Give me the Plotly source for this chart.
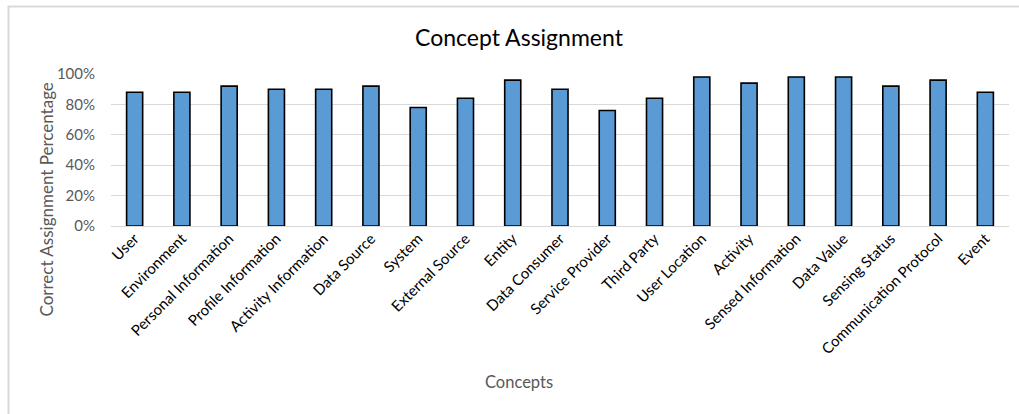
import plotly.graph_objects as go

# Share of correct assignments per concept
concepts = [
    "User", "Environment", "Personal Information", "Profile Information",
    "Activity Information", "Data Source", "System", "External Source",
    "Entity", "Data Consumer", "Service Provider", "Third Party",
    "User Location", "Activity", "Sensed Information", "Data Value",
    "Sensing Status", "Communication Protocol", "Event",
]
correct_pct = [
    0.88, 0.88, 0.92, 0.90, 0.90, 0.92, 0.78, 0.84, 0.96, 0.90,
    0.76, 0.84, 0.98, 0.94, 0.98, 0.98, 0.92, 0.96, 0.88,
]
y_ticks = [0, 0.2, 0.4, 0.6, 0.8, 1.0]

W, H = 1019, 414
# plot area in pixels
PL, PR, PT, PB = 111, 1009, 74, 226
FONT = "Lato, Calibri, Carlito, sans-serif"
GREY = "#595959"

fig = go.Figure(
    go.Bar(
        x=concepts,
        y=correct_pct,
        width=0.34,
        marker=dict(color="#5b9bd5", line=dict(color="#000000", width=1.6)),
    )
)


def px_x(p):
    return (p - PL) / (PR - PL)


def px_y(p):
    return (PB - p) / (PB - PT)


fig.update_layout(
    width=W,
    height=H,
    margin=dict(l=PL, r=W - PR, t=PT, b=H - PB, pad=0),
    paper_bgcolor="white",
    plot_bgcolor="white",
    showlegend=False,
    font=dict(family=FONT),
    title=dict(
        text="Concept Assignment",
        x=519 / W,
        xanchor="center",
        y=1 - 38 / H,
        yanchor="middle",
        font=dict(size=23, color="#000000", family=FONT),
    ),
    xaxis=dict(
        tickangle=-45,
        tickfont=dict(size=15, color="#000000"),
        showgrid=False,
        showline=False,
        ticks="",
        range=[-0.5, len(concepts) - 0.5],
    ),
    yaxis=dict(
        range=[0, 1.0],
        tickvals=y_ticks,
        tickformat=".0%",
        tickfont=dict(size=15, color=GREY),
        showgrid=True,
        gridcolor="#d9d9d9",
        gridwidth=1,
        zeroline=True,
        zerolinecolor="#d9d9d9",
        zerolinewidth=1,
        showline=False,
        ticks="",
        ticklabelstandoff=15,
    ),
    shapes=[
        # chart frame
        dict(
            type="rect",
            xref="paper",
            yref="paper",
            x0=px_x(8.5),
            x1=px_x(1030),
            y0=px_y(430),
            y1=px_y(6.5),
            line=dict(color="#d9d9d9", width=2),
            fillcolor="rgba(0,0,0,0)",
            layer="below",
        )
    ],
    annotations=[
        dict(
            text="Correct Assignment Percentage",
            xref="paper",
            yref="paper",
            x=px_x(45.5),
            y=px_y(200),
            textangle=-90,
            showarrow=False,
            xanchor="center",
            yanchor="middle",
            font=dict(size=17, color=GREY, family=FONT),
        ),
        dict(
            text="Concepts",
            xref="paper",
            yref="paper",
            x=px_x(519),
            y=px_y(382),
            showarrow=False,
            xanchor="center",
            yanchor="middle",
            font=dict(size=16.5, color=GREY, family=FONT),
        ),
    ],
)

fig.write_html("out.html")
